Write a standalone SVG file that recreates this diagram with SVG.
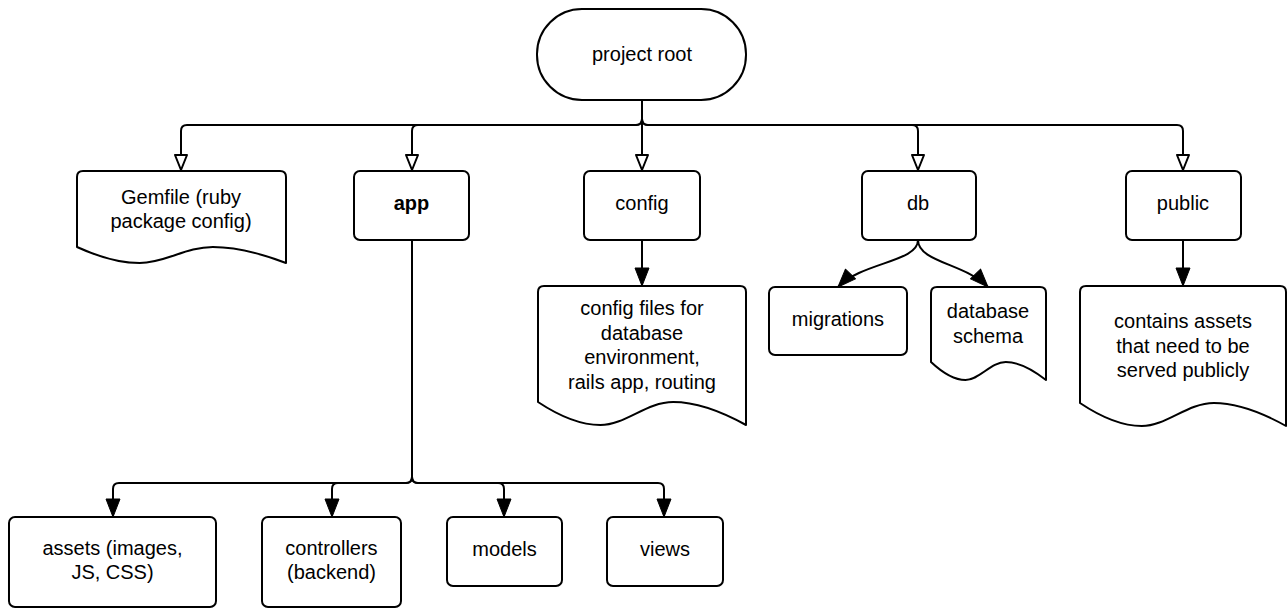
<svg xmlns="http://www.w3.org/2000/svg" width="1288" height="609" viewBox="0 0 1288 609">
<style>
.shape{fill:#fff;stroke:#000;stroke-width:2;stroke-linejoin:round}
.edge{fill:none;stroke:#000;stroke-width:2}
text{font-family:"Liberation Sans",Arial,sans-serif;font-size:20px;fill:#000;text-anchor:middle}
.bold{font-weight:bold}
</style>
<defs>
<marker id="hollow" markerUnits="userSpaceOnUse" markerWidth="20" markerHeight="20" refX="0" refY="0" orient="auto" overflow="visible">
<path d="M0,-6 L15,0 L0,6 Z" fill="#fff" stroke="#000" stroke-width="2" stroke-linejoin="round"/>
</marker>
<marker id="solid" markerUnits="userSpaceOnUse" markerWidth="20" markerHeight="20" refX="18" refY="0" orient="auto" overflow="visible">
<path d="M0,-7 L18,0 L0,7 Z" fill="#000" stroke="#000" stroke-width="1" stroke-linejoin="round"/>
</marker>
</defs>
<rect width="1288" height="609" fill="#fff"/>
<g id="connectors">
<path class="edge" d="M642,100 V119 Q642,125 636,125 H187 Q181,125 181,131 V155" marker-end="url(#hollow)"/>
<path class="edge" d="M642,100 V119 Q642,125 636,125 H418 Q412,125 412,131 V155" marker-end="url(#hollow)"/>
<path class="edge" d="M642,100 V155" marker-end="url(#hollow)"/>
<path class="edge" d="M642,100 V119 Q642,125 648,125 H912 Q918,125 918,131 V155" marker-end="url(#hollow)"/>
<path class="edge" d="M642,100 V119 Q642,125 648,125 H1177 Q1183,125 1183,131 V155" marker-end="url(#hollow)"/>
<path class="edge" d="M642,240 V286" marker-end="url(#solid)"/>
<path class="edge" d="M1183,240 V286" marker-end="url(#solid)"/>
<path class="edge" d="M918,240 C918,262 862,262 838,287" marker-end="url(#solid)"/>
<path class="edge" d="M918,240 C918,262 966,264 988,287" marker-end="url(#solid)"/>
<path class="edge" d="M412,240 V477 Q412,483 406,483 H119 Q113,483 113,489 V517" marker-end="url(#solid)"/>
<path class="edge" d="M412,240 V477 Q412,483 406,483 H338 Q332,483 332,489 V517" marker-end="url(#solid)"/>
<path class="edge" d="M412,240 V477 Q412,483 418,483 H498 Q504,483 504,489 V517" marker-end="url(#solid)"/>
<path class="edge" d="M412,240 V477 Q412,483 418,483 H658 Q664,483 664,489 V517" marker-end="url(#solid)"/>
</g>
<g id="root">
<rect class="shape" x="537" y="9" width="209" height="91" rx="45" ry="45"/>
<text x="642" y="61">project root</text>
</g>
<g id="gemfile">
<path class="shape" d="M77,177 Q77,171 83,171 H280 Q286,171 286,177 V263 C265.1,255 240,247 212.9,247 C185.7,247 164.8,263 139.7,263 C118.8,263 97.9,256.6 77,247 Z"/>
<text x="181" y="204">Gemfile (ruby</text>
<text x="181" y="228">package config)</text>
</g>
<g id="app">
<rect class="shape" x="354" y="171" width="115" height="69" rx="6"/>
<text class="bold" x="411.5" y="210">app</text>
</g>
<g id="config">
<rect class="shape" x="584" y="171" width="116" height="69" rx="6"/>
<text x="642" y="210">config</text>
</g>
<g id="config-files">
<path class="shape" d="M538,292 Q538,286 544,286 H740 Q746,286 746,292 V425 C725.2,413.5 700.2,402 673.2,402 C646.2,402 625.4,425 600.4,425 C579.6,425 558.8,415.8 538,402 Z"/>
<text x="642" y="315">config files for</text>
<text x="642" y="339.5">database</text>
<text x="642" y="364">environment,</text>
<text x="642" y="388.5">rails app, routing</text>
</g>
<g id="db">
<rect class="shape" x="862" y="171" width="114" height="69" rx="6"/>
<text x="918" y="210">db</text>
</g>
<g id="migrations">
<rect class="shape" x="769" y="287" width="138" height="68" rx="6"/>
<text x="838" y="326">migrations</text>
</g>
<g id="schema">
<path class="shape" d="M931,293 Q931,287 937,287 H1040 Q1046,287 1046,293 V380 C1034.5,371 1020.7,362 1005.8,362 C990.8,362 979.3,380 965.5,380 C954,380 942.5,372.8 931,362 Z"/>
<text x="988" y="318">database</text>
<text x="988" y="343">schema</text>
</g>
<g id="public">
<rect class="shape" x="1126" y="171" width="115" height="69" rx="6"/>
<text x="1183" y="210">public</text>
</g>
<g id="public-assets">
<path class="shape" d="M1080,292 Q1080,286 1086,286 H1280 Q1286,286 1286,292 V426 C1265.4,414.5 1240.7,403 1213.9,403 C1187.1,403 1166.5,426 1141.8,426 C1121.2,426 1100.6,416.8 1080,403 Z"/>
<text x="1183" y="328">contains assets</text>
<text x="1183" y="352.5">that need to be</text>
<text x="1183" y="377">served publicly</text>
</g>
<g id="assets">
<rect class="shape" x="9" y="517" width="207" height="90" rx="6"/>
<text x="112.5" y="555">assets (images,</text>
<text x="112.5" y="579">JS, CSS)</text>
</g>
<g id="controllers">
<rect class="shape" x="262" y="517" width="139" height="90" rx="6"/>
<text x="331.5" y="555">controllers</text>
<text x="331.5" y="579">(backend)</text>
</g>
<g id="models">
<rect class="shape" x="447" y="517" width="115" height="69" rx="6"/>
<text x="504.5" y="556">models</text>
</g>
<g id="views">
<rect class="shape" x="607" y="517" width="116" height="69" rx="6"/>
<text x="665" y="556">views</text>
</g>
</svg>
